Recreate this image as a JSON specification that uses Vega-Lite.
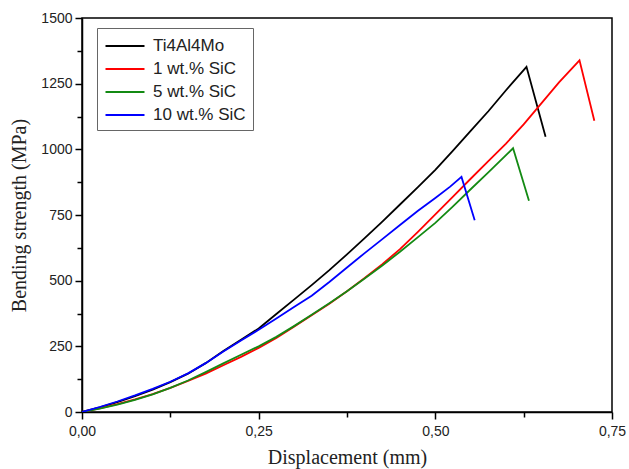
{
  "$schema": "https://vega.github.io/schema/vega-lite/v6.json",
  "width": 530,
  "height": 394,
  "autosize": "none",
  "padding": {"left": 82, "top": 18, "right": 17, "bottom": 57},
  "background": "white",
  "config": {
    "view": {"stroke": "black", "strokeWidth": 1.5},
    "axis": {
      "domainColor": "black", "domainWidth": 1.5, "tickColor": "black", "tickWidth": 1.5,
      "labelFont": "Liberation Sans", "labelFontSize": 14, "labelColor": "#222", "labelFlush": false,
      "titleFont": "Liberation Serif", "titleFontSize": 20, "titleFontWeight": "normal", "titleColor": "#222",
      "grid": false
    }
  },
  "datasets": {
    "curves": [
      {"s": "Ti4Al4Mo", "x": 0.0, "y": 0}, {"s": "Ti4Al4Mo", "x": 0.025, "y": 18}, {"s": "Ti4Al4Mo", "x": 0.05, "y": 38}, {"s": "Ti4Al4Mo", "x": 0.075, "y": 60}, {"s": "Ti4Al4Mo", "x": 0.1, "y": 85}, {"s": "Ti4Al4Mo", "x": 0.125, "y": 114}, {"s": "Ti4Al4Mo", "x": 0.15, "y": 146}, {"s": "Ti4Al4Mo", "x": 0.175, "y": 186}, {"s": "Ti4Al4Mo", "x": 0.2, "y": 232}, {"s": "Ti4Al4Mo", "x": 0.225, "y": 275}, {"s": "Ti4Al4Mo", "x": 0.25, "y": 318}, {"s": "Ti4Al4Mo", "x": 0.275, "y": 373}, {"s": "Ti4Al4Mo", "x": 0.3, "y": 428}, {"s": "Ti4Al4Mo", "x": 0.325, "y": 483}, {"s": "Ti4Al4Mo", "x": 0.35, "y": 540}, {"s": "Ti4Al4Mo", "x": 0.375, "y": 600}, {"s": "Ti4Al4Mo", "x": 0.4, "y": 662}, {"s": "Ti4Al4Mo", "x": 0.425, "y": 725}, {"s": "Ti4Al4Mo", "x": 0.45, "y": 790}, {"s": "Ti4Al4Mo", "x": 0.475, "y": 855}, {"s": "Ti4Al4Mo", "x": 0.5, "y": 922}, {"s": "Ti4Al4Mo", "x": 0.525, "y": 995}, {"s": "Ti4Al4Mo", "x": 0.55, "y": 1070}, {"s": "Ti4Al4Mo", "x": 0.575, "y": 1145}, {"s": "Ti4Al4Mo", "x": 0.6, "y": 1225}, {"s": "Ti4Al4Mo", "x": 0.629, "y": 1314}, {"s": "Ti4Al4Mo", "x": 0.656, "y": 1048},
      {"s": "1 wt.% SiC", "x": 0.0, "y": 0}, {"s": "1 wt.% SiC", "x": 0.025, "y": 14}, {"s": "1 wt.% SiC", "x": 0.05, "y": 30}, {"s": "1 wt.% SiC", "x": 0.075, "y": 48}, {"s": "1 wt.% SiC", "x": 0.1, "y": 68}, {"s": "1 wt.% SiC", "x": 0.125, "y": 92}, {"s": "1 wt.% SiC", "x": 0.15, "y": 118}, {"s": "1 wt.% SiC", "x": 0.175, "y": 146}, {"s": "1 wt.% SiC", "x": 0.2, "y": 178}, {"s": "1 wt.% SiC", "x": 0.225, "y": 210}, {"s": "1 wt.% SiC", "x": 0.25, "y": 244}, {"s": "1 wt.% SiC", "x": 0.275, "y": 282}, {"s": "1 wt.% SiC", "x": 0.3, "y": 325}, {"s": "1 wt.% SiC", "x": 0.325, "y": 368}, {"s": "1 wt.% SiC", "x": 0.35, "y": 412}, {"s": "1 wt.% SiC", "x": 0.375, "y": 460}, {"s": "1 wt.% SiC", "x": 0.4, "y": 510}, {"s": "1 wt.% SiC", "x": 0.425, "y": 563}, {"s": "1 wt.% SiC", "x": 0.45, "y": 620}, {"s": "1 wt.% SiC", "x": 0.475, "y": 685}, {"s": "1 wt.% SiC", "x": 0.5, "y": 752}, {"s": "1 wt.% SiC", "x": 0.525, "y": 820}, {"s": "1 wt.% SiC", "x": 0.55, "y": 888}, {"s": "1 wt.% SiC", "x": 0.575, "y": 955}, {"s": "1 wt.% SiC", "x": 0.6, "y": 1022}, {"s": "1 wt.% SiC", "x": 0.625, "y": 1095}, {"s": "1 wt.% SiC", "x": 0.65, "y": 1175}, {"s": "1 wt.% SiC", "x": 0.675, "y": 1255}, {"s": "1 wt.% SiC", "x": 0.704, "y": 1339}, {"s": "1 wt.% SiC", "x": 0.725, "y": 1109},
      {"s": "5 wt.% SiC", "x": 0.0, "y": 0}, {"s": "5 wt.% SiC", "x": 0.025, "y": 13}, {"s": "5 wt.% SiC", "x": 0.05, "y": 28}, {"s": "5 wt.% SiC", "x": 0.075, "y": 46}, {"s": "5 wt.% SiC", "x": 0.1, "y": 67}, {"s": "5 wt.% SiC", "x": 0.125, "y": 92}, {"s": "5 wt.% SiC", "x": 0.15, "y": 120}, {"s": "5 wt.% SiC", "x": 0.175, "y": 152}, {"s": "5 wt.% SiC", "x": 0.2, "y": 185}, {"s": "5 wt.% SiC", "x": 0.225, "y": 218}, {"s": "5 wt.% SiC", "x": 0.25, "y": 250}, {"s": "5 wt.% SiC", "x": 0.275, "y": 286}, {"s": "5 wt.% SiC", "x": 0.3, "y": 327}, {"s": "5 wt.% SiC", "x": 0.325, "y": 370}, {"s": "5 wt.% SiC", "x": 0.35, "y": 414}, {"s": "5 wt.% SiC", "x": 0.375, "y": 460}, {"s": "5 wt.% SiC", "x": 0.4, "y": 508}, {"s": "5 wt.% SiC", "x": 0.425, "y": 558}, {"s": "5 wt.% SiC", "x": 0.45, "y": 610}, {"s": "5 wt.% SiC", "x": 0.475, "y": 665}, {"s": "5 wt.% SiC", "x": 0.5, "y": 720}, {"s": "5 wt.% SiC", "x": 0.525, "y": 783}, {"s": "5 wt.% SiC", "x": 0.55, "y": 848}, {"s": "5 wt.% SiC", "x": 0.575, "y": 912}, {"s": "5 wt.% SiC", "x": 0.61, "y": 1004}, {"s": "5 wt.% SiC", "x": 0.6325, "y": 804},
      {"s": "10 wt.% SiC", "x": 0.0, "y": 0}, {"s": "10 wt.% SiC", "x": 0.025, "y": 19}, {"s": "10 wt.% SiC", "x": 0.05, "y": 40}, {"s": "10 wt.% SiC", "x": 0.075, "y": 63}, {"s": "10 wt.% SiC", "x": 0.1, "y": 88}, {"s": "10 wt.% SiC", "x": 0.125, "y": 115}, {"s": "10 wt.% SiC", "x": 0.15, "y": 147}, {"s": "10 wt.% SiC", "x": 0.175, "y": 186}, {"s": "10 wt.% SiC", "x": 0.2, "y": 230}, {"s": "10 wt.% SiC", "x": 0.225, "y": 272}, {"s": "10 wt.% SiC", "x": 0.25, "y": 313}, {"s": "10 wt.% SiC", "x": 0.275, "y": 356}, {"s": "10 wt.% SiC", "x": 0.3, "y": 400}, {"s": "10 wt.% SiC", "x": 0.325, "y": 443}, {"s": "10 wt.% SiC", "x": 0.35, "y": 495}, {"s": "10 wt.% SiC", "x": 0.375, "y": 550}, {"s": "10 wt.% SiC", "x": 0.4, "y": 605}, {"s": "10 wt.% SiC", "x": 0.425, "y": 658}, {"s": "10 wt.% SiC", "x": 0.45, "y": 712}, {"s": "10 wt.% SiC", "x": 0.475, "y": 765}, {"s": "10 wt.% SiC", "x": 0.5, "y": 815}, {"s": "10 wt.% SiC", "x": 0.521, "y": 858}, {"s": "10 wt.% SiC", "x": 0.537, "y": 895}, {"s": "10 wt.% SiC", "x": 0.5557, "y": 730}
    ]
  },
  "data": {"name": "curves"},
  "mark": {"type": "line", "strokeWidth": 1.8, "clip": true},
  "encoding": {
    "x": {
      "field": "x", "type": "quantitative",
      "scale": {"domain": [0, 0.75], "nice": false, "zero": false},
      "axis": {
        "title": "Displacement (mm)",
        "values": [0, 0.125, 0.25, 0.375, 0.5, 0.625, 0.75],
        "labelExpr": "datum.value % 0.25 === 0 ? replace(format(datum.value, '.2f'), '.', ',') : ''",
        "tickSize": {"condition": {"test": "datum.value % 0.25 === 0", "value": 7}, "value": 5},
        "labelPadding": 5, "titlePadding": 9
      }
    },
    "y": {
      "field": "y", "type": "quantitative",
      "scale": {"domain": [0, 1500], "nice": false},
      "axis": {
        "title": "Bending strength (MPa)",
        "values": [0, 125, 250, 375, 500, 625, 750, 875, 1000, 1125, 1250, 1375, 1500],
        "labelExpr": "datum.value % 250 === 0 ? datum.label : ''",
        "format": "d",
        "tickSize": {"condition": {"test": "datum.value % 250 === 0", "value": 7}, "value": 5},
        "labelPadding": 3, "titlePadding": 11
      }
    },
    "color": {
      "field": "s", "type": "nominal",
      "scale": {
        "domain": ["Ti4Al4Mo", "1 wt.% SiC", "5 wt.% SiC", "10 wt.% SiC"],
        "range": ["#000000", "#ff0000", "#138a13", "#0000ff"]
      },
      "legend": {
        "title": null, "orient": "none", "legendX": 15, "legendY": 10,
        "symbolType": "M-2,0H2", "symbolSize": 380, "symbolStrokeWidth": 2, "symbolOffset": 10,
        "labelFont": "Liberation Sans", "labelFontSize": 17, "labelColor": "#222",
        "rowPadding": 4, "padding": 7,
        "fillColor": "white", "strokeColor": "#666", "labelOffset": 17
      }
    }
  }
}
